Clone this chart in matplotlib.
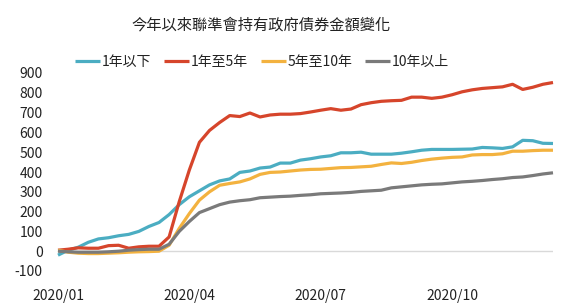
import matplotlib
matplotlib.use("Agg")
import matplotlib.pyplot as plt

plt.rcParams['font.family'] = ['Noto Sans CJK TC', 'DejaVu Sans']

title = "今年以來聯準會持有政府債券金額變化"
series_names = ["1年以下", "1年至5年", "5年至10年", "10年以上"]
colors = ["#4BADC2", "#D6452B", "#F3B23F", "#7A7A7A"]

tick_idx = [0, 13, 26, 39]
tick_labels = ["2020/01", "2020/04", "2020/07", "2020/10"]
y_ticks = [-100, 0, 100, 200, 300, 400, 500, 600, 700, 800, 900]

under_1y = [-20, 5, 20, 45, 62, 68, 78, 85, 100, 125, 145, 185, 235, 275, 305, 335,
            355, 365, 398, 405, 420, 425, 445, 445, 460, 467, 476, 482, 497, 497,
            500, 490, 490, 490, 495, 502, 510, 514, 514, 514, 515, 516, 524, 522,
            519, 527, 560, 558, 545, 544]
y1_to_5 = [5, 10, 17, 15, 15, 28, 30, 15, 22, 25, 25, 72, 250, 410, 550, 610,
           650, 685, 680, 698, 678, 688, 692, 692, 695, 703, 712, 720, 712, 718,
           740, 750, 757, 760, 762, 778, 778, 772, 778, 790, 805, 815, 822, 826,
           830, 843, 817, 828, 843, 852]
y5_to_10 = [5, -5, -10, -12, -12, -10, -8, -5, -3, -2, 0, 30, 115, 190, 258, 300,
            333, 342, 350, 365, 388, 398, 400, 405, 410, 413, 414, 418, 422, 423,
            426, 429, 438, 446, 443, 449, 458, 465, 470, 474, 476, 486, 488, 488,
            492, 505, 505, 508, 510, 510]
over_10y = [0, -3, -5, -5, -5, -3, 0, 5, 8, 10, 10, 35, 100, 150, 195, 215,
            235, 248, 255, 260, 270, 273, 276, 278, 282, 285, 290, 292, 294, 297,
            302, 305, 308, 320, 325, 330, 335, 338, 340, 345, 350, 353, 357, 362,
            366, 372, 375, 382, 390, 396]

data = [under_1y, y1_to_5, y5_to_10, over_10y]

W, H = 567, 306
fig = plt.figure(figsize=(W / 100, H / 100), dpi=100)
ax = fig.add_axes([58 / W, 1 - 271 / H, (553 - 58) / W, (271 - 73) / H])

x = list(range(len(under_1y)))
ax.axhline(0, color="#D9D9D9", lw=1, zorder=1)
for name, vals, c in zip(series_names, data, colors):
    ax.plot(x, vals, color=c, lw=2.3, label=name, clip_on=False, zorder=3,
            solid_capstyle='butt')

ax.set_xlim(0, len(x) - 1)
ax.set_ylim(-100, 900)
ax.set_yticks(y_ticks)
ax.set_yticklabels([str(v) for v in y_ticks])
ax.set_xticks(tick_idx)
ax.set_xticklabels(tick_labels)
ax.tick_params(axis='both', length=0, labelsize=10, colors="#222222")
ax.tick_params(axis='y', pad=11)
ax.tick_params(axis='x', pad=13)
for s in ax.spines.values():
    s.set_visible(False)

fig.text(261 / W, 1 - 25 / H, title, ha='center', va='center', fontsize=11,
         color="#222222")

fig.legend(loc='center', bbox_to_anchor=(262 / W, 1 - 62 / H), ncol=4,
           frameon=False, fontsize=10, handlelength=1.8, handletextpad=0.1,
           columnspacing=0.95, borderaxespad=0, labelcolor="#222222")

fig.savefig("out.png", dpi=100)
